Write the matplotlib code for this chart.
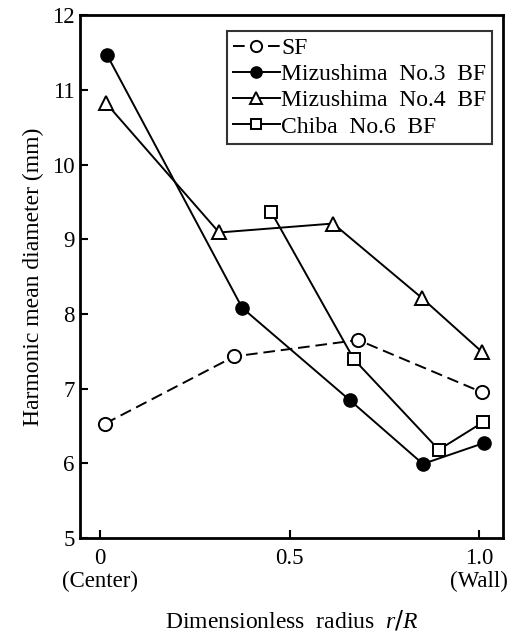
import matplotlib.pyplot as plt

plt.rcParams['font.family'] = ['Liberation Serif', 'DejaVu Serif']
plt.rcParams['mathtext.fontset'] = 'custom'
plt.rcParams['mathtext.it'] = 'Liberation Serif:italic'

sf_x = [0.013, 0.354, 0.681, 1.008]
sf_y = [6.53, 7.43, 7.65, 6.95]
m3_x = [0.018, 0.375, 0.660, 0.852, 1.013]
m3_y = [11.47, 8.08, 6.84, 5.99, 6.27]
m4_x = [0.016, 0.314, 0.615, 0.850, 1.008]
m4_y = [10.82, 9.09, 9.21, 8.21, 7.49]
c6_x = [0.451, 0.670, 0.894, 1.011]
c6_y = [9.37, 7.39, 6.18, 6.55]

xticks = [0, 0.5, 1.0]
xtick_labels = ['0', '0.5', '1.0']
xtick_notes = ['(Center)', '', '(Wall)']

fig = plt.figure(figsize=(5.1, 6.35), dpi=100)
ax = fig.add_axes([0.157, 0.153, 0.829, 0.823])

ms = 9.5
ax.plot(sf_x, sf_y, '--', color='black', lw=1.4, marker='o', ms=ms,
        mfc='white', mec='black', mew=1.4, dashes=(6, 3), label='SF')
ax.plot(m3_x, m3_y, '-', color='black', lw=1.4, marker='o', ms=ms,
        mfc='black', mec='black', label='Mizushima  No.3  BF')
ax.plot(m4_x, m4_y, '-', color='black', lw=1.4, marker='^', ms=ms + 1,
        mfc='white', mec='black', mew=1.4, label='Mizushima  No.4  BF')
ax.plot(c6_x, c6_y, '-', color='black', lw=1.4, marker='s', ms=ms - 1.5,
        mfc='white', mec='black', mew=1.4, label='Chiba  No.6  BF')

ax.set_xlim(-0.053, 1.063)
ax.set_ylim(5, 12)
ax.set_xticks(xticks)
ax.set_xticklabels(xtick_labels)
ax.set_yticks([5, 6, 7, 8, 9, 10, 11, 12])
ax.tick_params(direction='in', length=6, width=1.5, labelsize=16.5, pad=7)
ax.tick_params(axis='y', pad=4)
for s in ax.spines.values():
    s.set_linewidth(2)

# notes under the end ticks
for xv, note in zip(xticks, xtick_notes):
    if note:
        ax.annotate(note, xy=(xv, 0), xycoords=('data', 'axes fraction'),
                    xytext=(0, -24), textcoords='offset points',
                    ha='center', va='top', fontsize=16.5)

ax.set_ylabel('Harmonic mean diameter (mm)', fontsize=17, labelpad=6)
ax.set_xlabel('Dimensionless  radius  $r/R$', fontsize=17, labelpad=29)

leg = ax.legend(loc='upper right', bbox_to_anchor=(0.975, 0.969), fontsize=17,
                frameon=True, fancybox=False, edgecolor='black',
                handlelength=2.0, handletextpad=0.05, borderpad=0.25,
                labelspacing=0.2, borderaxespad=0, markerscale=0.85)
leg.get_frame().set_linewidth(1.5)

fig.savefig('out.png', dpi=100)
